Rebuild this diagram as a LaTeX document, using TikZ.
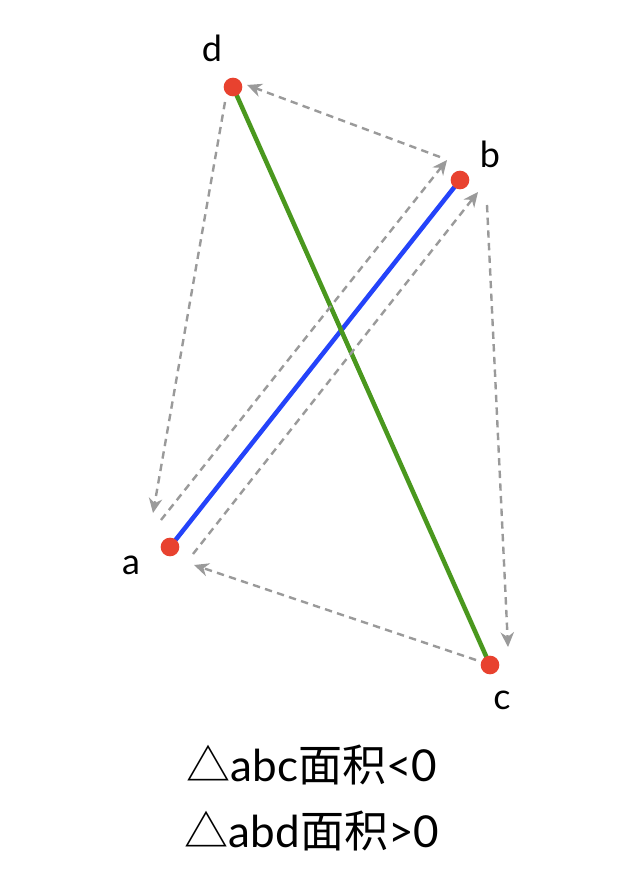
\documentclass[tikz,border=0pt]{standalone}
\usepackage{fontspec}
\setmainfont{Lato}
\newfontfamily\cjk{Noto Sans CJK SC}
\usetikzlibrary{arrows.meta}
\definecolor{ptred}{HTML}{E8422F}
\definecolor{segblue}{HTML}{2443FA}
\definecolor{seggreen}{HTML}{4A981E}
\definecolor{dashgray}{HTML}{9A9A9A}
\begin{document}
\begin{tikzpicture}[x=0.75pt,y=-0.75pt,
  pt/.style={circle,fill=ptred,inner sep=0pt,minimum size=14pt},
  lbl/.style={font=\fontsize{27}{32}\selectfont},
  seg/.style={line width=3.4pt},
  darrow/.style={draw=dashgray,line width=1.8pt,dash pattern=on 5.5pt off 4pt,
     -{Stealth[length=11pt,width=10pt,inset=3.5pt]}},
  caption/.style={font=\fontsize{33}{40}\selectfont}]
\useasboundingbox (0,0) rectangle (636,880);
\fill[white] (0,0) rectangle (636,880);
% segments
\coordinate (A) at (170,547);
\coordinate (B) at (460,180);
\coordinate (C) at (490,665);
\coordinate (D) at (233,87);
\draw[seg,segblue] (A) -- (B);
\draw[seg,seggreen] (D) -- (C);
% dashed arrow ends
\coordinate (bd1) at (440,157);
\coordinate (bd2) at (247,85);
\coordinate (da1) at (225,102);
\coordinate (da2) at (153,513);
\coordinate (ab1) at (161,520);
\coordinate (ab2) at (447,160);
\coordinate (ac1) at (193,554);
\coordinate (ac2) at (478,192);
\coordinate (bc1) at (487,205);
\coordinate (bc2) at (508,647);
\coordinate (ca1) at (476,660);
\coordinate (ca2) at (194,565);
\draw[darrow] (bd1) -- (bd2);
\draw[darrow] (da1) -- (da2);
\draw[darrow] (ab1) -- (ab2);
\draw[darrow] (ac1) -- (ac2);
\draw[darrow] (bc1) -- (bc2);
\draw[darrow] (ca1) -- (ca2);
% points
\node[pt] (a) at (A) {};
\node[pt] (b) at (B) {};
\node[pt] (c) at (C) {};
\node[pt] (d) at (D) {};
\node[lbl] (la) at (131,565) {a};
\node[lbl] (lb) at (490,154) {b};
\node[lbl] (lc) at (502,700) {c};
\node[lbl] (ld) at (212,48) {d};
\node[caption] (t1) at (312,765) {{\cjk △}abc{\cjk 面积}<0};
\node[caption] (t2) at (312,831) {{\cjk △}abd{\cjk 面积}>0};
\end{tikzpicture}
\end{document}
